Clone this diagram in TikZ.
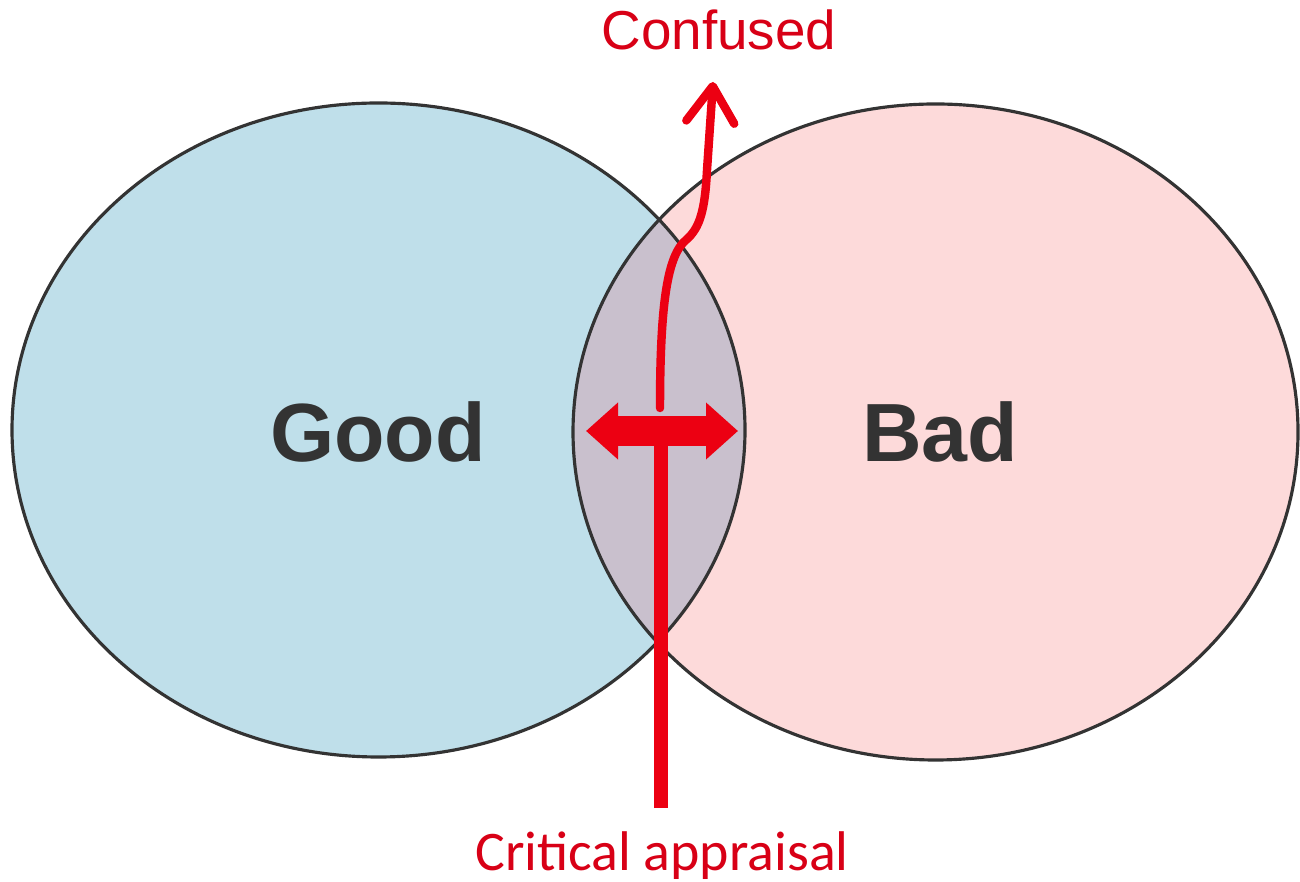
\documentclass[tikz,border=0pt]{standalone}
\usepackage{fontspec}
\setmainfont{Liberation Sans}
\newfontfamily\calibrifont{Carlito}
\usepackage{xcolor}
\usetikzlibrary{shapes.geometric, arrows.meta, positioning, calc}

\definecolor{goodblue}{RGB}{191,223,234}
\definecolor{badpink}{RGB}{253,218,218}
\definecolor{mixgray}{RGB}{201,192,205}
\definecolor{arrowred}{RGB}{236,0,18}
\definecolor{labelred}{RGB}{216,0,22}
\definecolor{setgray}{RGB}{51,51,51}

\begin{document}
\begin{tikzpicture}[
    outline/.style={draw=black!80, line width=0.9pt},
    setlabel/.style={anchor=base, text=setgray, font=\bfseries\fontsize{23.5}{28}\selectfont},
    redlabel/.style={anchor=base, text=labelred, font=\fontsize{15.6}{19}\selectfont},
    stemline/.style={draw=arrowred, line width=4pt},
    crossarrow/.style={draw=arrowred, line width=8.6pt, {Triangle[length=3.2mm, width=5.5mm]}-{Triangle[length=3.2mm, width=5.5mm]}},
    curvearrow/.style={draw=arrowred, line width=2.4pt, line cap=round, -{Straight Barb[length=3.6mm, width=4.8mm, round]}}
]
\useasboundingbox (0,0) rectangle (13,8.81);

% Sets
\coordinate (goodc) at (3.785,4.51);
\coordinate (badc) at (9.355,4.49);
\fill[goodblue] (goodc) ellipse [x radius=3.665, y radius=3.27];
\fill[badpink] (badc) ellipse [x radius=3.625, y radius=3.28];
\begin{scope}
    \clip (goodc) ellipse [x radius=3.665, y radius=3.27];
    \fill[mixgray] (badc) ellipse [x radius=3.625, y radius=3.28];
\end{scope}
\draw[outline] (goodc) ellipse [x radius=3.665, y radius=3.27];
\draw[outline] (badc) ellipse [x radius=3.625, y radius=3.28];

\node[setlabel] (good) at (3.78,4.19) {Good};
\node[setlabel] (bad) at (9.40,4.19) {Bad};

% Red arrows
\coordinate (base) at (6.61,0.73);
\coordinate (cross) at (6.61,4.50);
\coordinate (barL) at (5.86,4.50);
\coordinate (barR) at (7.38,4.50);
\coordinate (rise) at (6.60,4.73);
\coordinate (kink) at (6.86,6.41);
\coordinate (tip) at (7.13,7.99);

\draw[stemline] (base) -- (cross);
\draw[crossarrow] (barL) -- (barR);
\draw[curvearrow] (rise) .. controls (6.60,5.81) and (6.68,6.26) .. (kink)
    .. controls (7.00,6.53) and (7.05,6.71) .. (7.07,7.11) -- (tip);

% Labels
\node[redlabel] (confused) at (7.19,8.31) {Confused};
\node[redlabel, font=\calibrifont\fontsize{15.9}{19}\selectfont] (appraisal) at (6.62,0.11) {Critical appraisal};

\end{tikzpicture}
\end{document}
